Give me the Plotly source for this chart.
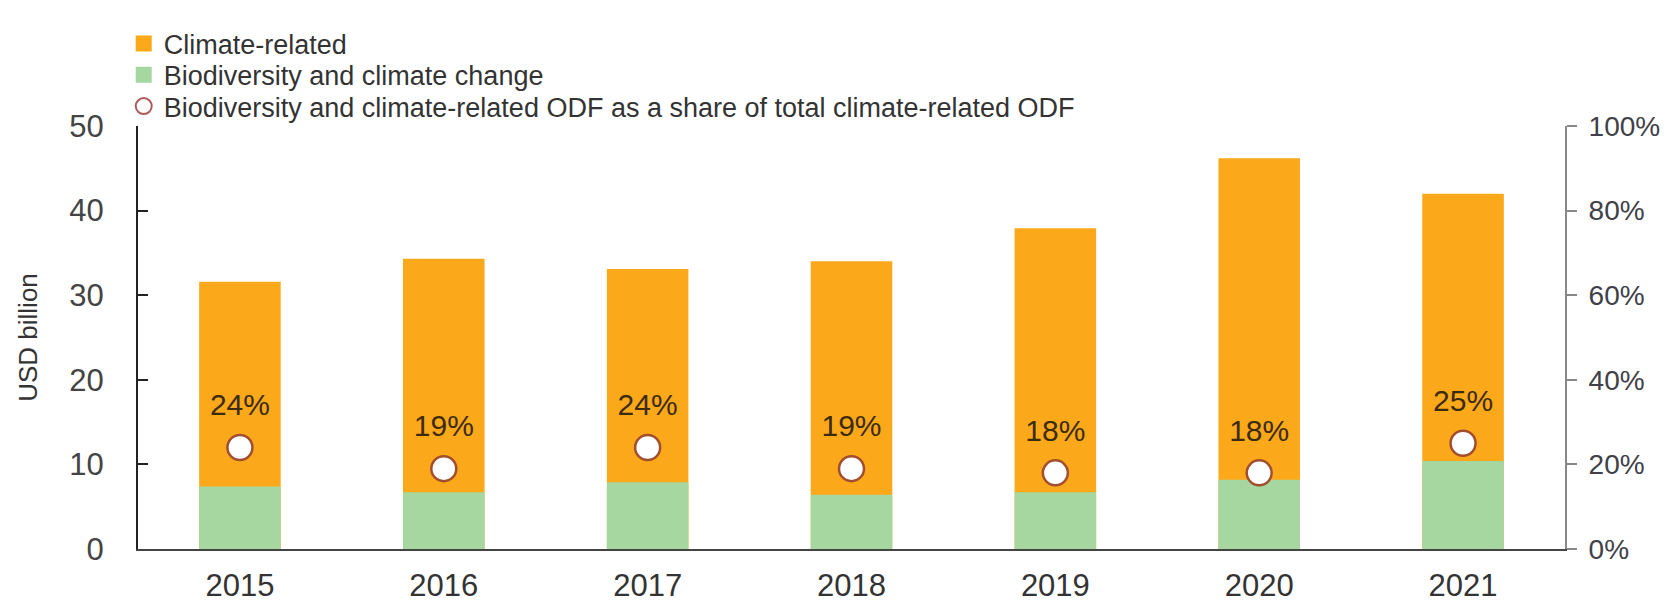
import plotly.graph_objects as go

years = ["2015", "2016", "2017", "2018", "2019", "2020", "2021"]
climate_related = [31.6, 34.3, 33.1, 34.0, 37.9, 46.2, 42.0]
biodiversity_climate = [7.4, 6.7, 7.9, 6.4, 6.7, 8.2, 10.4]
share_pct = [24, 19, 24, 19, 18, 18, 25]
share_labels = [f"{v}%" for v in share_pct]

ORANGE = "#FBA91A"
GREEN = "#A6D7A1"
MARKER_LINE = "#A24E2E"
FONT = "Arial, Liberation Sans, sans-serif"

fig = go.Figure()

fig.add_trace(go.Bar(x=years, y=climate_related, name="Climate-related",
                     marker=dict(color=ORANGE, line=dict(width=0)), width=0.4,
                     showlegend=False, hoverinfo="skip"))
fig.add_trace(go.Bar(x=years, y=biodiversity_climate, name="Biodiversity and climate change",
                     marker=dict(color=GREEN, line=dict(width=0)), width=0.4,
                     showlegend=False, hoverinfo="skip"))
# percent labels (invisible larger markers push the text upward)
fig.add_trace(go.Scatter(x=years, y=share_pct, yaxis="y2", mode="markers+text",
                         text=share_labels, textposition="top center",
                         textfont=dict(size=30, color="#3D2B0E", family=FONT),
                         marker=dict(size=38, color="rgba(0,0,0,0)"),
                         showlegend=False, hoverinfo="skip", cliponaxis=False))
fig.add_trace(go.Scatter(x=years, y=share_pct, yaxis="y2", mode="markers",
                         name="Biodiversity and climate-related ODF as a share of total climate-related ODF",
                         marker=dict(size=25, color="white", line=dict(color=MARKER_LINE, width=2.5)),
                         showlegend=False))

# legend-only entries, one legend box per row
fig.add_trace(go.Scatter(x=[None], y=[None], mode="markers", name="Climate-related",
                         marker=dict(symbol="square", size=20, color=ORANGE), legend="legend"))
fig.add_trace(go.Scatter(x=[None], y=[None], mode="markers", name="Biodiversity and climate change",
                         marker=dict(symbol="square", size=20, color=GREEN), legend="legend2"))
fig.add_trace(go.Scatter(x=[None], y=[None], mode="markers",
                         name="Biodiversity and climate-related ODF as a share of total climate-related ODF",
                         marker=dict(symbol="circle-open", size=20, color="#B0585A", line=dict(width=2)),
                         legend="legend3"))

leg_common = dict(x=-0.01, xanchor="left", yanchor="middle",
                  font=dict(size=27, color="#333333", family=FONT), itemsizing="trace",
                  bgcolor="rgba(0,0,0,0)", itemwidth=30, borderwidth=0)

fig.update_layout(
    width=1669, height=607,
    margin=dict(l=130, r=112, t=108, b=52),
    paper_bgcolor="white", plot_bgcolor="white",
    barmode="overlay",
    font=dict(family=FONT, color="#404040"),
    legend=dict(y=1.194, **leg_common),
    legend2=dict(y=1.120, **leg_common),
    legend3=dict(y=1.046, **leg_common),
    xaxis=dict(type="category", range=[-0.5, 6.5], showline=True, linecolor="#444444",
               linewidth=2, ticks="", showgrid=False, tickfont=dict(size=31, color="#333333"),
               ticklabelstandoff=8),
    yaxis=dict(range=[0, 50], dtick=10, showline=True, linecolor="#222222", linewidth=2,
               ticks="inside", ticklen=10, tickwidth=2, tickcolor="#222222", showgrid=False,
               zeroline=False, tickfont=dict(size=31, color="#444444"), ticklabelstandoff=26,
               title=dict(text="USD billion", font=dict(size=26, color="#333333"), standoff=24)),
    yaxis2=dict(range=[0, 100], dtick=20, overlaying="y", side="right", showline=True,
                linecolor="#888888", linewidth=2, ticks="outside", ticklen=10, tickwidth=2,
                tickcolor="#888888", showgrid=False, zeroline=False, ticksuffix="%",
                tickfont=dict(size=28, color="#404048"), ticklabelstandoff=6),
)

fig.write_html("out.html")
